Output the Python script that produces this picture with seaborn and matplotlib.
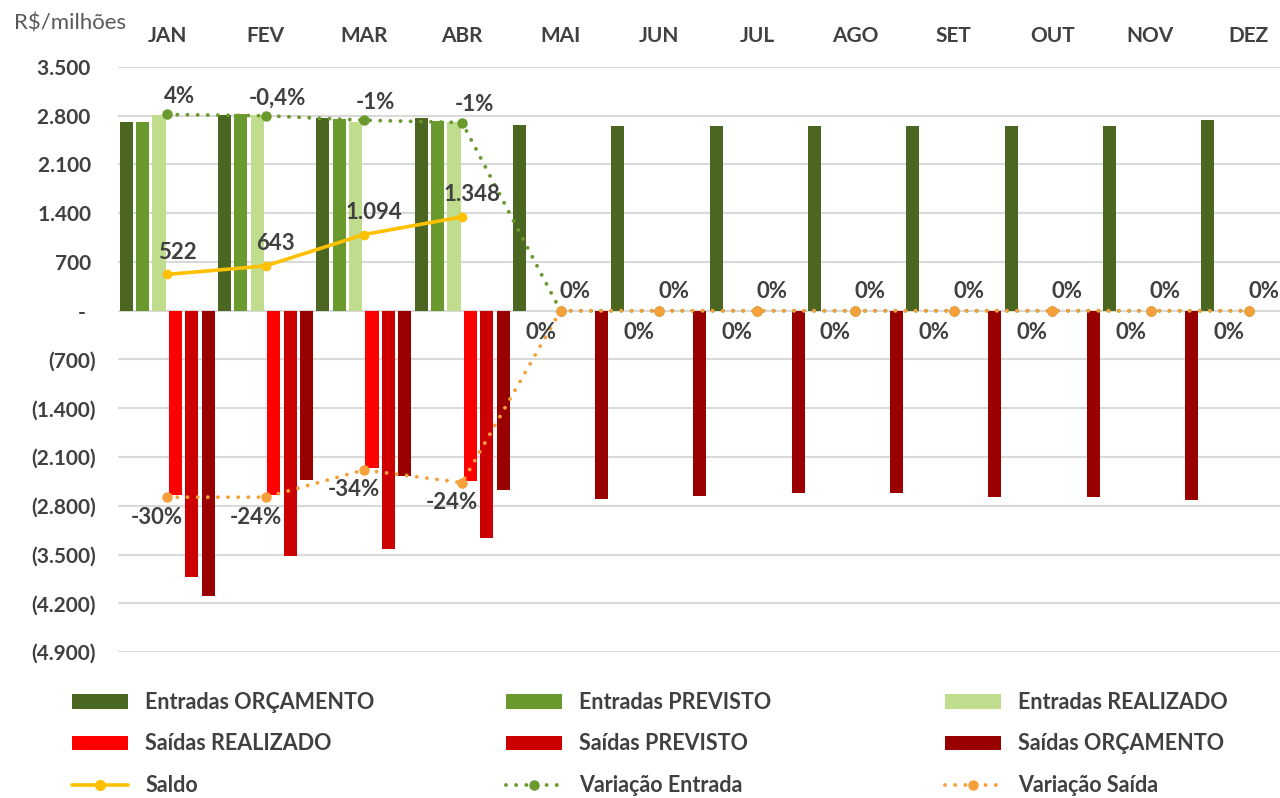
import numpy as np
import pandas as pd
import matplotlib
matplotlib.use("Agg")
import matplotlib.pyplot as plt
from matplotlib.patches import Patch
from matplotlib.lines import Line2D
import seaborn as sns

# ---------------- data ----------------
months = ["JAN", "FEV", "MAR", "ABR", "MAI", "JUN", "JUL", "AGO", "SET", "OUT", "NOV", "DEZ"]
nan = np.nan
entradas_orcamento = [2714, 2812, 2764, 2764, 2671, 2648, 2648, 2648, 2648, 2648, 2648, 2737]
entradas_previsto = [2714, 2822, 2755, 2726, nan, nan, nan, nan, nan, nan, nan, nan]
entradas_realizado = [2812, 2812, 2716, 2716, nan, nan, nan, nan, nan, nan, nan, nan]
saidas_realizado = [-2652, -2652, -2260, -2450, nan, nan, nan, nan, nan, nan, nan, nan]
saidas_previsto = [-3820, -3520, -3425, -3262, nan, nan, nan, nan, nan, nan, nan, nan]
saidas_orcamento = [-4100, -2432, -2380, -2580, -2701, -2653, -2610, -2610, -2676, -2676, -2720, -2750]

saldo = [522, 643, 1094, 1348]
saldo_labels = ["522", "643", "1.094", "1.348"]

var_entrada_pos = [2818, 2800, 2736, 2702, 0, 0, 0, 0, 0, 0, 0, 0]
var_entrada_labels = ["4%", "-0,4%", "-1%", "-1%", "0%", "0%", "0%", "0%", "0%", "0%", "0%", "0%"]
var_saida_pos = [-2677, -2677, -2286, -2468, 0, 0, 0, 0, 0, 0, 0, 0]
var_saida_labels = ["-30%", "-24%", "-34%", "-24%", "0%", "0%", "0%", "0%", "0%", "0%", "0%", "0%"]

yticks = [3500, 2800, 2100, 1400, 700, 0, -700, -1400, -2100, -2800, -3500, -4200, -4900]

series_names = ["Entradas ORÇAMENTO", "Entradas PREVISTO", "Entradas REALIZADO",
                "Saídas REALIZADO", "Saídas PREVISTO", "Saídas ORÇAMENTO"]
series_values = [entradas_orcamento, entradas_previsto, entradas_realizado,
                 saidas_realizado, saidas_previsto, saidas_orcamento]
series_colors = ["#4a6621", "#6a992e", "#c0dd8e", "#ff0000", "#cc0000", "#990000"]

# ---------------- style ----------------
sns.set_style("white")
plt.rcParams["font.family"] = ["Lato", "DejaVu Sans"]
TXT = "#404040"

rows = []
for name, vals in zip(series_names, series_values):
    for m, v in zip(months, vals):
        rows.append({"month": m, "series": name, "value": v})
df = pd.DataFrame(rows)

fig = plt.figure(figsize=(12.8, 7.98), dpi=100)
W, H = 1280, 798
ax = fig.add_axes([118 / W, 1 - 652 / H, 1180 / W, (652 - 67) / H])

sns.barplot(data=df, x="month", y="value", hue="series", order=months,
            hue_order=series_names, palette=series_colors, saturation=1,
            errorbar=None, dodge=True, width=1.0, gap=0.2, linewidth=0,
            legend=False, ax=ax)

x = np.arange(len(months))

# lines
ax.plot(x, var_entrada_pos, color="#6a992e", lw=2.8, dashes=(0.01, 2.6),
        dash_capstyle="round", marker="o", ms=6.5, zorder=5)
ax.plot(x, var_saida_pos, color="#f5a03a", lw=2.8, dashes=(0.01, 2.6),
        dash_capstyle="round", marker="o", ms=6.5, zorder=5)
sns.lineplot(x=x[:len(saldo)], y=saldo, color="#ffc000", lw=2.6, marker="o",
             markersize=7, markeredgewidth=0, ax=ax, zorder=6)

lab_kw = dict(textcoords="offset pixels", ha="center", va="center",
              fontsize=16, fontweight="bold", color=TXT, zorder=8)
for i, (v, t) in enumerate(zip(saldo, saldo_labels)):
    ax.annotate(t, (x[i], v), xytext=(10, 22), **lab_kw)
for i, (v, t) in enumerate(zip(var_entrada_pos, var_entrada_labels)):
    off = (12, 18) if i < 4 else (15, 19)
    ax.annotate(t, (x[i], v), xytext=off, **lab_kw)
for i, (v, t) in enumerate(zip(var_saida_pos, var_saida_labels)):
    off = (-10, -20) if i < 4 else (-20, -22)
    ax.annotate(t, (x[i], v), xytext=off, **lab_kw)

# axes
ax.set_xlim(-0.5, 11.5)
ax.set_ylim(-4900, 3500)
ax.set_yticks(yticks)


def fmt(v):
    if v == 0:
        return "-  "
    s = f"{abs(int(v)):,}".replace(",", ".")
    return s + " " if v > 0 else f"({s})"


ax.set_yticklabels([fmt(v) for v in yticks])
ax.yaxis.grid(True, color="#d9d9d9", lw=1.5)
ax.set_axisbelow(True)
ax.xaxis.tick_top()
ax.set_xticks(x)
ax.set_xticklabels(months)
ax.tick_params(axis="x", length=0, pad=15, labelsize=15, colors=TXT)
ax.tick_params(axis="y", length=0, pad=16, labelsize=15, colors=TXT)
for lbl in ax.get_xticklabels() + ax.get_yticklabels():
    lbl.set_fontweight("bold")
ax.set_xlabel("")
ax.set_ylabel("")
for s in ax.spines.values():
    s.set_visible(False)

fig.text(14 / W, 1 - 24 / H, "R$/milhões", fontsize=16, color="#595959",
         va="center", ha="left")

# legend (three columns)
h_saldo = Line2D([], [], color="#ffc000", lw=2.6, marker="o", ms=7, markevery=[1])
h_ve = Line2D([], [], color="#6a992e", lw=2.8, dashes=(0.01, 2.6), dash_capstyle="round",
              marker="o", ms=6.5, markevery=[1])
h_vs = Line2D([], [], color="#f5a03a", lw=2.8, dashes=(0.01, 2.6), dash_capstyle="round",
              marker="o", ms=6.5, markevery=[1])
patches = [Patch(facecolor=c, edgecolor="none") for c in series_colors]
cols = [
    ([patches[0], patches[3], h_saldo], [series_names[0], series_names[3], "Saldo"], 72),
    ([patches[1], patches[4], h_ve], [series_names[1], series_names[4], "Variação Entrada"], 506),
    ([patches[2], patches[5], h_vs], [series_names[2], series_names[5], "Variação Saída"], 945),
]
for hs, ls, px in cols:
    fig.legend(hs, ls, loc="upper left", bbox_to_anchor=(px / W, 1 - 692 / H),
               frameon=False, borderpad=0, borderaxespad=0, handlelength=2.6,
               handleheight=0.65, handletextpad=0.8, labelspacing=0.95,
               prop={"size": 15.5, "weight": "bold"}, labelcolor=TXT)

fig.savefig("out.png", dpi=100)
